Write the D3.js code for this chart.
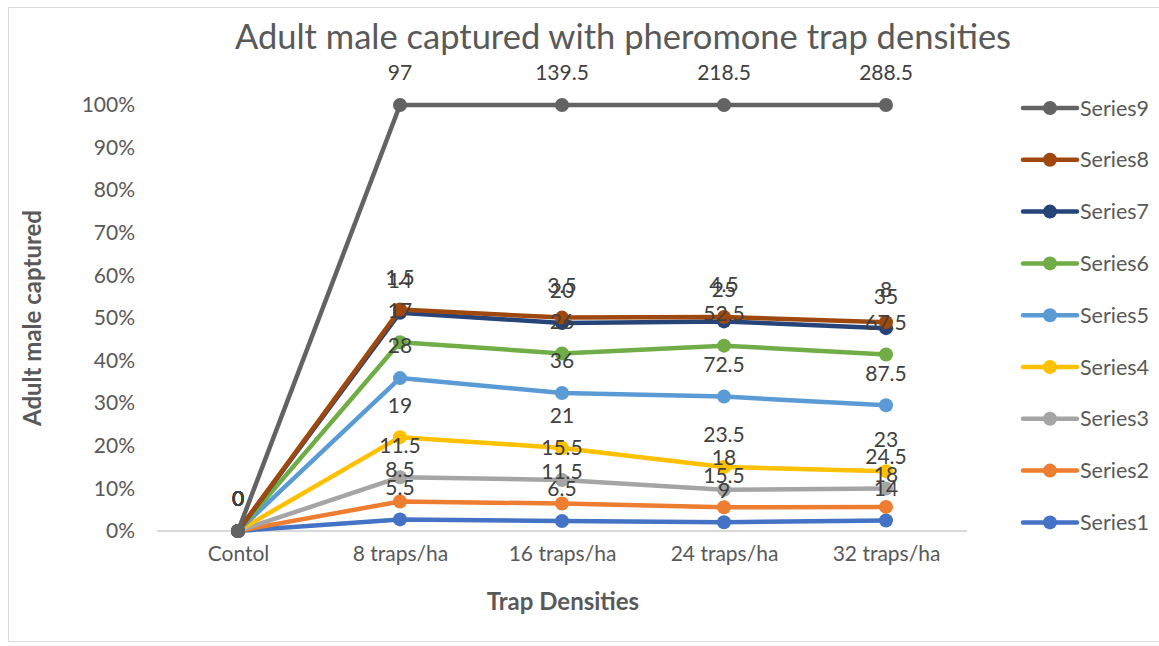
<!DOCTYPE html>
<html><head><meta charset="utf-8">
<script src="https://cdn.jsdelivr.net/npm/d3@7"></script>
<style>body{margin:0;background:#fff}svg{display:block}text{font-family:Lato,"Open Sans",sans-serif}</style>
</head><body><svg id="c" width="1159" height="646"></svg>
<script>
const categories = ["Contol","8 traps/ha","16 traps/ha","24 traps/ha","32 traps/ha"];
const seriesNames = ["Series1","Series2","Series3","Series4","Series5","Series6","Series7","Series8","Series9"];
const s1 = [0,5.5,6.5,9,14];
const s2 = [0,8.5,11.5,15.5,18];
const s3 = [0,11.5,15.5,18,24.5];
const s4 = [0,19,21,23.5,23];
const s5 = [0,28,36,72.5,87.5];
const s6 = [0,17,26,52.5,67.5];
const s7 = [0,14,20,25,35];
const s8 = [0,1.5,3.5,4.5,8];
const s9 = [0,97,139.5,218.5,288.5];
const colors = ["#4472C4","#ED7D31","#A5A5A5","#FFC000","#5B9BD5","#70AD47","#264478","#9E480E","#636363"];
const yTicks = [0,0.1,0.2,0.3,0.4,0.5,0.6,0.7,0.8,0.9,1];
const seriesVals = [s1,s2,s3,s4,s5,s6,s7,s8,s9];

(function(){
const svg = d3.select("#c");
const pL = 157, pR = 967, pT = 105, pB = 531;
const x = d3.scalePoint().domain(categories).range([pL, pR]).padding(0.5);
const y = d3.scaleLinear().domain([0,1]).range([pB, pT]);

svg.append("rect").attr("x",8.5).attr("y",7.5).attr("width",1170).attr("height",634)
  .attr("fill","none").attr("stroke","#d9d9d9").attr("stroke-width",1);

svg.append("text").attr("x",623).attr("y",49).attr("text-anchor","middle")
  .attr("font-size",34.5).attr("fill","#595959").text("Adult male captured with pheromone trap densities");

const yAxis = d3.axisLeft(y).tickValues(yTicks).tickFormat(d3.format(".0%")).tickSize(0).tickPadding(22);
const ga = svg.append("g").attr("transform",`translate(${pL},0)`).call(yAxis);
ga.select(".domain").remove();
ga.selectAll("text").attr("font-size",21).attr("fill","#595959").attr("font-family","Lato");

const xAxis = d3.axisBottom(x).tickSize(0).tickPadding(24);
const gx = svg.append("g").attr("transform",`translate(0,${pB})`).call(xAxis);
gx.select(".domain").attr("stroke","#d9d9d9").attr("stroke-width",2).attr("d",`M${pL},0H${pR}`);
gx.selectAll("text").attr("font-size",21).attr("fill","#595959").attr("font-family","Lato").attr("dy","0.3em");

svg.append("text").attr("transform","translate(41,318) rotate(-90)").attr("text-anchor","middle")
  .attr("font-size",24).attr("font-weight","bold").attr("fill","#595959").text("Adult male captured");
svg.append("text").attr("x",563).attr("y",610).attr("text-anchor","middle")
  .attr("font-size",24).attr("font-weight","bold").attr("fill","#595959").text("Trap Densities");

const totals = categories.map((c,i)=>d3.sum(seriesVals,s=>s[i]));
const cum = [];
seriesVals.forEach((s,k)=>{
  cum.push(s.map((v,i)=>{
    const prev = k>0 ? cum[k-1][i] : 0;
    return prev + (totals[i] ? v/totals[i] : 0);
  }));
});

const line = d3.line().x((d,i)=>x(categories[i])).y(d=>y(d));
const gl = svg.append("g");
seriesVals.forEach((s,k)=>{
  const g = gl.append("g");
  g.append("path").datum(cum[k]).attr("d",line).attr("fill","none")
    .attr("stroke",colors[k]).attr("stroke-width",4.5).attr("stroke-linejoin","round").attr("stroke-linecap","round");
  g.selectAll("circle").data(cum[k]).join("circle")
    .attr("cx",(d,i)=>x(categories[i])).attr("cy",d=>y(d)).attr("r",7).attr("fill",colors[k]);
});
const glab = svg.append("g");
seriesVals.forEach((s,k)=>{
  glab.selectAll(null).data(s).join("text")
    .attr("x",(d,i)=>x(categories[i])).attr("y",(d,i)=>y(cum[k][i])-32)
    .attr("dy","0.35em").attr("text-anchor","middle").attr("font-size",21).attr("fill","#404040")
    .text(d=>d);
});

const lg = svg.append("g");
seriesNames.slice().reverse().forEach((n,j)=>{
  const k = seriesNames.length-1-j;
  const yy = 108 + j*51.8;
  lg.append("line").attr("x1",1023).attr("x2",1077).attr("y1",yy).attr("y2",yy)
    .attr("stroke",colors[k]).attr("stroke-width",4.5).attr("stroke-linecap","round");
  lg.append("circle").attr("cx",1050).attr("cy",yy).attr("r",7).attr("fill",colors[k]);
  lg.append("text").attr("x",1080).attr("y",yy).attr("dy","0.35em").attr("font-size",21.5).attr("fill","#595959").text(n);
});
})();
</script></body></html>
